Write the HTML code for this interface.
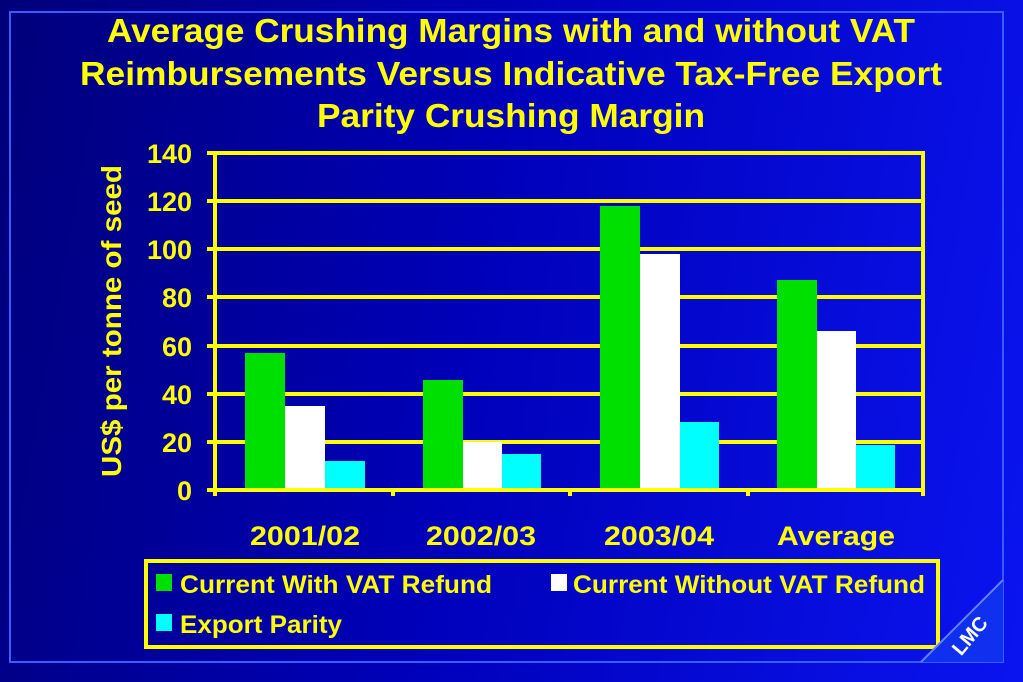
<!DOCTYPE html>
<html><head><style>
html,body{margin:0;padding:0}
body{width:1023px;height:682px;overflow:hidden;background:linear-gradient(100deg,#00007a 0%,#0000b8 45%,#0a14f0 100%);font-family:"Liberation Sans",Arial,sans-serif;position:relative}
</style></head><body>
<svg width="1023" height="682" style="position:absolute;left:0;top:0" font-family="Liberation Sans, Arial, sans-serif">
<rect x="10" y="12" width="993" height="650" fill="none" stroke="#3a5cff" stroke-width="2"/>
<g fill="#ffff00" font-weight="bold" font-size="33" text-anchor="middle">
<text x="511" y="42" textLength="808" lengthAdjust="spacingAndGlyphs">Average Crushing Margins with and without VAT</text>
<text x="511" y="85" textLength="862" lengthAdjust="spacingAndGlyphs">Reimbursements Versus Indicative Tax-Free Export</text>
<text x="511" y="127" textLength="388" lengthAdjust="spacingAndGlyphs">Parity Crushing Margin</text>
</g>
<g stroke="#ffff00" stroke-width="4">
<line x1="207" y1="153" x2="923" y2="153"/>
<line x1="207" y1="201" x2="923" y2="201"/>
<line x1="207" y1="249" x2="923" y2="249"/>
<line x1="207" y1="297" x2="923" y2="297"/>
<line x1="207" y1="346" x2="923" y2="346"/>
<line x1="207" y1="394" x2="923" y2="394"/>
<line x1="207" y1="442" x2="923" y2="442"/>
<line x1="215" y1="151" x2="215" y2="496"/>
<line x1="923" y1="151" x2="923" y2="496"/>
<line x1="393" y1="490" x2="393" y2="496"/>
<line x1="570" y1="490" x2="570" y2="496"/>
<line x1="748" y1="490" x2="748" y2="496"/>
</g>
<g>
<rect x="245" y="353" width="40" height="137" fill="#00e000"/>
<rect x="285" y="406" width="40" height="84" fill="#fff"/>
<rect x="325" y="461" width="40" height="29" fill="#00ffff"/>
<rect x="423" y="380" width="40" height="110" fill="#00e000"/>
<rect x="463" y="442" width="39" height="48" fill="#fff"/>
<rect x="502" y="454" width="39" height="36" fill="#00ffff"/>
<rect x="600" y="206" width="40" height="284" fill="#00e000"/>
<rect x="640" y="254" width="40" height="236" fill="#fff"/>
<rect x="680" y="422" width="39" height="68" fill="#00ffff"/>
<rect x="777" y="280" width="40" height="210" fill="#00e000"/>
<rect x="817" y="331" width="39" height="159" fill="#fff"/>
<rect x="856" y="445" width="39" height="45" fill="#00ffff"/>
</g>
<line x1="207" y1="490" x2="923" y2="490" stroke="#ffff00" stroke-width="4"/>
<g fill="#ffff00" font-weight="bold" font-size="27" text-anchor="end">
<text x="192" y="163">140</text><text x="192" y="211">120</text><text x="192" y="259">100</text>
<text x="192" y="307">80</text><text x="192" y="356">60</text><text x="192" y="404">40</text>
<text x="192" y="452">20</text><text x="192" y="500">0</text>
</g>
<text transform="translate(121,321) rotate(-90)" fill="#ffff00" font-weight="bold" font-size="28" text-anchor="middle" textLength="312" lengthAdjust="spacingAndGlyphs">US$ per tonne of seed</text>
<g fill="#ffff00" font-weight="bold" font-size="27" text-anchor="middle">
<text x="305" y="545" textLength="110" lengthAdjust="spacingAndGlyphs">2001/02</text><text x="481" y="545" textLength="110" lengthAdjust="spacingAndGlyphs">2002/03</text>
<text x="659" y="545" textLength="110" lengthAdjust="spacingAndGlyphs">2003/04</text><text x="836" y="545" textLength="118" lengthAdjust="spacingAndGlyphs">Average</text>
</g>
<rect x="146" y="561" width="792" height="86" fill="none" stroke="#ffff00" stroke-width="4"/>
<rect x="156" y="574" width="16" height="17" fill="#00e000"/>
<rect x="551" y="574" width="16" height="17" fill="#fff"/>
<rect x="156" y="614" width="16" height="17" fill="#00ffff"/>
<g fill="#ffff00" font-weight="bold" font-size="25">
<text x="180" y="593" textLength="312" lengthAdjust="spacingAndGlyphs">Current With VAT Refund</text>
<text x="573" y="593" textLength="352" lengthAdjust="spacingAndGlyphs">Current Without VAT Refund</text>
<text x="180" y="633" textLength="162" lengthAdjust="spacingAndGlyphs">Export Parity</text>
</g>
<polygon points="1003,580 1003,662 921,662" fill="#1030f0"/>
<line x1="1003" y1="580" x2="921" y2="662" stroke="#6080ff" stroke-width="2"/>
<text transform="translate(975,640) rotate(-50)" fill="#fff" font-weight="bold" font-size="20" text-anchor="middle">LMC</text>
</svg>
</body></html>
